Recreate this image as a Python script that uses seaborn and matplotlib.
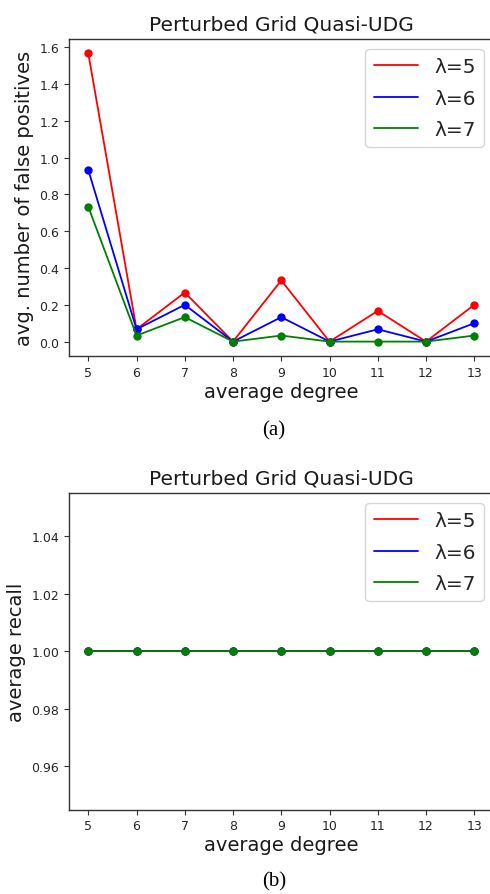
import numpy as np
import pandas as pd
import matplotlib
matplotlib.use("Agg")
import matplotlib.pyplot as plt
from matplotlib.lines import Line2D
import seaborn as sns

# average degree values on the x axis
degrees = [5, 6, 7, 8, 9, 10, 11, 12, 13]
lambdas = ["λ=5", "λ=6", "λ=7"]
colors = ["red", "blue", "green"]

# avg. number of false positives per lambda
fp_l5 = [1.567, 0.067, 0.267, 0.0, 0.333, 0.0, 0.167, 0.0, 0.200]
fp_l6 = [0.933, 0.067, 0.200, 0.0, 0.133, 0.0, 0.067, 0.0, 0.100]
fp_l7 = [0.733, 0.033, 0.133, 0.0, 0.033, 0.0, 0.000, 0.0, 0.033]

# average recall per lambda
rc_l5 = [1.0, 1.0, 1.0, 1.0, 1.0, 1.0, 1.0, 1.0, 1.0]
rc_l6 = [1.0, 1.0, 1.0, 1.0, 1.0, 1.0, 1.0, 1.0, 1.0]
rc_l7 = [1.0, 1.0, 1.0, 1.0, 1.0, 1.0, 1.0, 1.0, 1.0]

title = "Perturbed Grid Quasi-UDG"
xlabel = "average degree"
ylabel_a = "avg. number of false positives"
ylabel_b = "average recall"
yticks_a = [0.0, 0.2, 0.4, 0.6, 0.8, 1.0, 1.2, 1.4, 1.6]
yticks_b = [0.96, 0.98, 1.00, 1.02, 1.04]


def long_frame(series):
    rows = []
    for lam, vals in zip(lambdas, series):
        for d, v in zip(degrees, vals):
            rows.append({"degree": d, "value": v, "lam": lam})
    return pd.DataFrame(rows)


sns.set_theme(style="ticks", context="notebook")
plt.rcParams.update({
    "font.family": ["DejaVu Sans"],
    "axes.edgecolor": "#333333",
    "axes.linewidth": 1.0,
    "xtick.color": "#333333",
    "ytick.color": "#333333",
    "xtick.labelcolor": "#262626",
    "ytick.labelcolor": "#262626",
    "xtick.major.size": 3.5,
    "ytick.major.size": 3.5,
    "xtick.major.width": 0.8,
    "ytick.major.width": 0.8,
    "xtick.labelsize": 9,
    "ytick.labelsize": 9,
})

fig = plt.figure(figsize=(4.90, 8.95), dpi=100)
ax_a = fig.add_axes([0.1408, 0.6011, 0.8665, 0.3542])
ax_b = fig.add_axes([0.1408, 0.0942, 0.8665, 0.3539])

palette = dict(zip(lambdas, colors))

for ax, series, ylab, yt, fmt in [
    (ax_a, [fp_l5, fp_l6, fp_l7], ylabel_a, yticks_a, "{:.1f}"),
    (ax_b, [rc_l5, rc_l6, rc_l7], ylabel_b, yticks_b, "{:.2f}"),
]:
    df = long_frame(series)
    sns.lineplot(data=df, x="degree", y="value", hue="lam", palette=palette,
                 marker="o", markersize=6, markeredgewidth=0, linewidth=1.3,
                 legend=False, ax=ax)
    ax.set_xticks(degrees)
    ax.set_xticklabels([str(d) for d in degrees])
    ax.set_yticks(yt)
    ax.set_yticklabels([fmt.format(v) for v in yt])
    ax.margins(x=0.05)
    ax.set_title(title, fontsize=14.5, color="#1a1a1a", pad=7)
    ax.set_xlabel(xlabel, fontsize=14, color="#1a1a1a", labelpad=2)
    ax.set_ylabel(ylab, fontsize=14, color="#1a1a1a", labelpad=4)
    handles = [Line2D([], [], color=c, lw=1.3) for c in colors]
    ax.legend(handles, lambdas, loc="upper right", fontsize=14.5,
              handlelength=2.2, labelspacing=0.62, frameon=True,
              framealpha=0.8, edgecolor="#cccccc", fancybox=True)

ax_b.set_ylim(0.945, 1.055)

fig.text(0.559, 1 - 431 / 895, "(a)", ha="center", va="center",
         family="Liberation Serif", fontsize=15, color="black")
fig.text(0.559, 1 - 882 / 895, "(b)", ha="center", va="center",
         family="Liberation Serif", fontsize=15, color="black")

fig.savefig("out.png", dpi=100)
